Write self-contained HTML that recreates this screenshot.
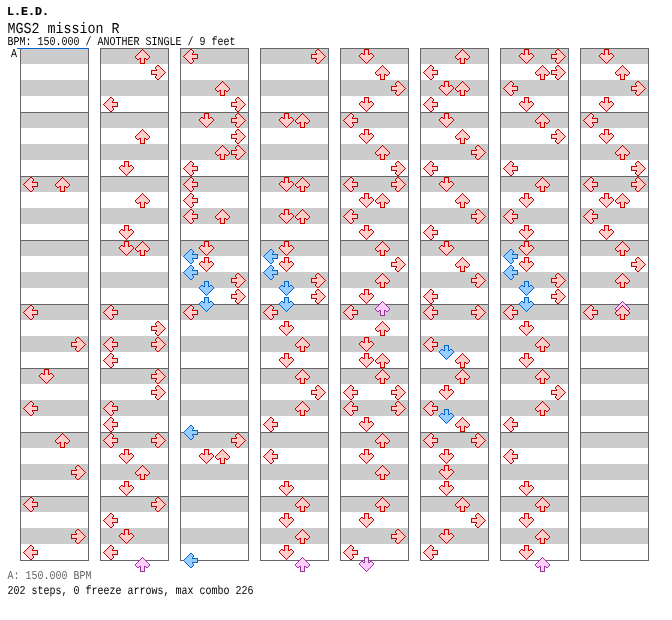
<!DOCTYPE html>
<html lang="en"><head><meta charset="utf-8"><title>MGS2 mission R</title>
<style>
html,body{margin:0;padding:0;background:#fff}
body{width:672px;height:620px;position:relative;overflow:hidden;font-family:"Liberation Mono",monospace;color:#000}
.t{text-rendering:geometricPrecision;position:absolute;white-space:pre;margin:0;line-height:1;transform-origin:0 0}
#t1{-webkit-text-stroke:0.2px;left:7px;top:7px;font-size:11.665px;font-weight:bold;transform:scaleY(1.0411)}
#t2{left:7.5px;top:23px;font-size:13.33px;transform:scaleY(1.1388)}
#t3{left:7.5px;top:38px;font-size:10px;transform:scaleY(1.2145)}
#la{left:11px;top:50px;font-size:10px;transform:scaleY(1.2145)}
#b1{left:7.5px;top:572px;font-size:10px;color:#666;transform:scaleY(1.2145)}
#b2{left:7.5px;top:587px;font-size:10px;transform:scaleY(1.2145)}
svg{position:absolute;left:0;top:0}
</style></head><body>
<svg width="672" height="620" viewBox="0 0 672 620" shape-rendering="crispEdges">
<defs>
<g id="r"><path d="M7 1h1v1h-1zM6 2h3v1h-3zM5 3h5v1h-5zM4 4h7v1h-7zM3 5h9v1h-9zM2 6h11v1h-11zM1 7h13v1h-13zM1 8h13v1h-13zM2 9h2v1h-2zM6 9h3v1h-3zM11 9h2v1h-2zM6 10h3v1h-3zM6 11h3v1h-3zM6 12h3v1h-3zM6 13h3v1h-3z" fill="#ffcccc"/><path d="M7 0h1v1h-1zM6 1h1v1h-1zM8 1h1v1h-1zM5 2h1v1h-1zM9 2h1v1h-1zM4 3h1v1h-1zM10 3h1v1h-1zM3 4h1v1h-1zM11 4h1v1h-1zM2 5h1v1h-1zM12 5h1v1h-1zM1 6h1v1h-1zM13 6h1v1h-1zM0 7h1v1h-1zM14 7h1v1h-1zM0 8h1v1h-1zM14 8h1v1h-1zM1 9h1v1h-1zM4 9h2v1h-2zM9 9h2v1h-2zM13 9h1v1h-1zM2 10h2v1h-2zM5 10h1v1h-1zM9 10h1v1h-1zM11 10h2v1h-2zM5 11h1v1h-1zM9 11h1v1h-1zM5 12h1v1h-1zM9 12h1v1h-1zM5 13h1v1h-1zM9 13h1v1h-1zM5 14h5v1h-5z" fill="#cc0000"/></g>
<g id="b"><path d="M7 1h1v1h-1zM6 2h3v1h-3zM5 3h5v1h-5zM4 4h7v1h-7zM3 5h9v1h-9zM2 6h11v1h-11zM1 7h13v1h-13zM1 8h13v1h-13zM2 9h2v1h-2zM6 9h3v1h-3zM11 9h2v1h-2zM6 10h3v1h-3zM6 11h3v1h-3zM6 12h3v1h-3zM6 13h3v1h-3z" fill="#99ccff"/><path d="M7 0h1v1h-1zM6 1h1v1h-1zM8 1h1v1h-1zM5 2h1v1h-1zM9 2h1v1h-1zM4 3h1v1h-1zM10 3h1v1h-1zM3 4h1v1h-1zM11 4h1v1h-1zM2 5h1v1h-1zM12 5h1v1h-1zM1 6h1v1h-1zM13 6h1v1h-1zM0 7h1v1h-1zM14 7h1v1h-1zM0 8h1v1h-1zM14 8h1v1h-1zM1 9h1v1h-1zM4 9h2v1h-2zM9 9h2v1h-2zM13 9h1v1h-1zM2 10h2v1h-2zM5 10h1v1h-1zM9 10h1v1h-1zM11 10h2v1h-2zM5 11h1v1h-1zM9 11h1v1h-1zM5 12h1v1h-1zM9 12h1v1h-1zM5 13h1v1h-1zM9 13h1v1h-1zM5 14h5v1h-5z" fill="#0066cc"/></g>
<g id="p"><path d="M7 1h1v1h-1zM6 2h3v1h-3zM5 3h5v1h-5zM4 4h7v1h-7zM3 5h9v1h-9zM2 6h11v1h-11zM1 7h13v1h-13zM1 8h13v1h-13zM2 9h2v1h-2zM6 9h3v1h-3zM11 9h2v1h-2zM6 10h3v1h-3zM6 11h3v1h-3zM6 12h3v1h-3zM6 13h3v1h-3z" fill="#ffccff"/><path d="M7 0h1v1h-1zM6 1h1v1h-1zM8 1h1v1h-1zM5 2h1v1h-1zM9 2h1v1h-1zM4 3h1v1h-1zM10 3h1v1h-1zM3 4h1v1h-1zM11 4h1v1h-1zM2 5h1v1h-1zM12 5h1v1h-1zM1 6h1v1h-1zM13 6h1v1h-1zM0 7h1v1h-1zM14 7h1v1h-1zM0 8h1v1h-1zM14 8h1v1h-1zM1 9h1v1h-1zM4 9h2v1h-2zM9 9h2v1h-2zM13 9h1v1h-1zM2 10h2v1h-2zM5 10h1v1h-1zM9 10h1v1h-1zM11 10h2v1h-2zM5 11h1v1h-1zM9 11h1v1h-1zM5 12h1v1h-1zM9 12h1v1h-1zM5 13h1v1h-1zM9 13h1v1h-1zM5 14h5v1h-5z" fill="#993399"/></g>
<g id="col"><rect x="0" y="0" width="69" height="513" fill="#fff"/><rect x="1" y="0" width="67" height="16" fill="#ccc"/><rect x="1" y="32" width="67" height="16" fill="#ccc"/><rect x="1" y="64" width="67" height="16" fill="#ccc"/><rect x="1" y="96" width="67" height="16" fill="#ccc"/><rect x="1" y="128" width="67" height="16" fill="#ccc"/><rect x="1" y="160" width="67" height="16" fill="#ccc"/><rect x="1" y="192" width="67" height="16" fill="#ccc"/><rect x="1" y="224" width="67" height="16" fill="#ccc"/><rect x="1" y="256" width="67" height="16" fill="#ccc"/><rect x="1" y="288" width="67" height="16" fill="#ccc"/><rect x="1" y="320" width="67" height="16" fill="#ccc"/><rect x="1" y="352" width="67" height="16" fill="#ccc"/><rect x="1" y="384" width="67" height="16" fill="#ccc"/><rect x="1" y="416" width="67" height="16" fill="#ccc"/><rect x="1" y="448" width="67" height="16" fill="#ccc"/><rect x="1" y="480" width="67" height="16" fill="#ccc"/><rect x="0" y="0" width="69" height="1" fill="#666"/><rect x="0" y="64" width="69" height="1" fill="#666"/><rect x="0" y="128" width="69" height="1" fill="#666"/><rect x="0" y="192" width="69" height="1" fill="#666"/><rect x="0" y="256" width="69" height="1" fill="#666"/><rect x="0" y="320" width="69" height="1" fill="#666"/><rect x="0" y="384" width="69" height="1" fill="#666"/><rect x="0" y="448" width="69" height="1" fill="#666"/><rect x="0" y="512" width="69" height="1" fill="#666"/><rect x="0" y="0" width="1" height="513" fill="#666"/><rect x="68" y="0" width="1" height="513" fill="#666"/></g>
</defs>
<use href="#col" x="20" y="48"/>
<use href="#col" x="100" y="48"/>
<use href="#col" x="180" y="48"/>
<use href="#col" x="260" y="48"/>
<use href="#col" x="340" y="48"/>
<use href="#col" x="420" y="48"/>
<use href="#col" x="500" y="48"/>
<use href="#col" x="580" y="48"/>
<rect x="17" y="48" width="72" height="1" fill="#0066cc"/>
<use href="#r" transform="translate(23 177) rotate(270 7.5 7.5)"/>
<use href="#r" transform="translate(55 177)"/>
<use href="#r" transform="translate(23 305) rotate(270 7.5 7.5)"/>
<use href="#r" transform="translate(71 337) rotate(90 7.5 7.5)"/>
<use href="#r" transform="translate(39 369) rotate(180 7.5 7.5)"/>
<use href="#r" transform="translate(23 401) rotate(270 7.5 7.5)"/>
<use href="#r" transform="translate(55 433)"/>
<use href="#r" transform="translate(71 465) rotate(90 7.5 7.5)"/>
<use href="#r" transform="translate(23 497) rotate(270 7.5 7.5)"/>
<use href="#r" transform="translate(71 529) rotate(90 7.5 7.5)"/>
<use href="#r" transform="translate(23 545) rotate(270 7.5 7.5)"/>
<use href="#r" transform="translate(135 49)"/>
<use href="#r" transform="translate(151 65) rotate(90 7.5 7.5)"/>
<use href="#r" transform="translate(103 97) rotate(270 7.5 7.5)"/>
<use href="#r" transform="translate(135 129)"/>
<use href="#r" transform="translate(119 161) rotate(180 7.5 7.5)"/>
<use href="#r" transform="translate(135 193)"/>
<use href="#r" transform="translate(119 225) rotate(180 7.5 7.5)"/>
<use href="#r" transform="translate(119 241) rotate(180 7.5 7.5)"/>
<use href="#r" transform="translate(135 241)"/>
<use href="#r" transform="translate(103 305) rotate(270 7.5 7.5)"/>
<use href="#r" transform="translate(151 321) rotate(90 7.5 7.5)"/>
<use href="#r" transform="translate(103 337) rotate(270 7.5 7.5)"/>
<use href="#r" transform="translate(151 337) rotate(90 7.5 7.5)"/>
<use href="#r" transform="translate(103 353) rotate(270 7.5 7.5)"/>
<use href="#r" transform="translate(151 369) rotate(90 7.5 7.5)"/>
<use href="#r" transform="translate(151 385) rotate(90 7.5 7.5)"/>
<use href="#r" transform="translate(103 401) rotate(270 7.5 7.5)"/>
<use href="#r" transform="translate(103 417) rotate(270 7.5 7.5)"/>
<use href="#r" transform="translate(103 433) rotate(270 7.5 7.5)"/>
<use href="#r" transform="translate(151 433) rotate(90 7.5 7.5)"/>
<use href="#r" transform="translate(119 449) rotate(180 7.5 7.5)"/>
<use href="#r" transform="translate(135 465)"/>
<use href="#r" transform="translate(119 481) rotate(180 7.5 7.5)"/>
<use href="#r" transform="translate(151 497) rotate(90 7.5 7.5)"/>
<use href="#r" transform="translate(103 513) rotate(270 7.5 7.5)"/>
<use href="#r" transform="translate(119 529) rotate(180 7.5 7.5)"/>
<use href="#r" transform="translate(103 545) rotate(270 7.5 7.5)"/>
<use href="#p" transform="translate(135 557)"/>
<use href="#r" transform="translate(183 49) rotate(270 7.5 7.5)"/>
<use href="#r" transform="translate(215 81)"/>
<use href="#r" transform="translate(231 97) rotate(90 7.5 7.5)"/>
<use href="#r" transform="translate(199 113) rotate(180 7.5 7.5)"/>
<use href="#r" transform="translate(231 113) rotate(90 7.5 7.5)"/>
<use href="#r" transform="translate(231 129) rotate(90 7.5 7.5)"/>
<use href="#r" transform="translate(215 145)"/>
<use href="#r" transform="translate(231 145) rotate(90 7.5 7.5)"/>
<use href="#r" transform="translate(183 161) rotate(270 7.5 7.5)"/>
<use href="#r" transform="translate(183 177) rotate(270 7.5 7.5)"/>
<use href="#r" transform="translate(183 193) rotate(270 7.5 7.5)"/>
<use href="#r" transform="translate(183 209) rotate(270 7.5 7.5)"/>
<use href="#r" transform="translate(215 209)"/>
<use href="#r" transform="translate(199 241) rotate(180 7.5 7.5)"/>
<use href="#b" transform="translate(183 249) rotate(270 7.5 7.5)"/>
<use href="#r" transform="translate(199 257) rotate(180 7.5 7.5)"/>
<use href="#b" transform="translate(183 265) rotate(270 7.5 7.5)"/>
<use href="#r" transform="translate(231 273) rotate(90 7.5 7.5)"/>
<use href="#b" transform="translate(199 281) rotate(180 7.5 7.5)"/>
<use href="#r" transform="translate(231 289) rotate(90 7.5 7.5)"/>
<use href="#b" transform="translate(199 297) rotate(180 7.5 7.5)"/>
<use href="#r" transform="translate(183 305) rotate(270 7.5 7.5)"/>
<use href="#b" transform="translate(183 425) rotate(270 7.5 7.5)"/>
<use href="#r" transform="translate(231 433) rotate(90 7.5 7.5)"/>
<use href="#r" transform="translate(199 449) rotate(180 7.5 7.5)"/>
<use href="#r" transform="translate(215 449)"/>
<use href="#b" transform="translate(183 553) rotate(270 7.5 7.5)"/>
<use href="#r" transform="translate(311 49) rotate(90 7.5 7.5)"/>
<use href="#r" transform="translate(279 113) rotate(180 7.5 7.5)"/>
<use href="#r" transform="translate(295 113)"/>
<use href="#r" transform="translate(279 177) rotate(180 7.5 7.5)"/>
<use href="#r" transform="translate(295 177)"/>
<use href="#r" transform="translate(279 209) rotate(180 7.5 7.5)"/>
<use href="#r" transform="translate(295 209)"/>
<use href="#r" transform="translate(279 241) rotate(180 7.5 7.5)"/>
<use href="#b" transform="translate(263 249) rotate(270 7.5 7.5)"/>
<use href="#r" transform="translate(279 257) rotate(180 7.5 7.5)"/>
<use href="#b" transform="translate(263 265) rotate(270 7.5 7.5)"/>
<use href="#r" transform="translate(311 273) rotate(90 7.5 7.5)"/>
<use href="#b" transform="translate(279 281) rotate(180 7.5 7.5)"/>
<use href="#r" transform="translate(311 289) rotate(90 7.5 7.5)"/>
<use href="#b" transform="translate(279 297) rotate(180 7.5 7.5)"/>
<use href="#r" transform="translate(263 305) rotate(270 7.5 7.5)"/>
<use href="#r" transform="translate(279 321) rotate(180 7.5 7.5)"/>
<use href="#r" transform="translate(295 337)"/>
<use href="#r" transform="translate(279 353) rotate(180 7.5 7.5)"/>
<use href="#r" transform="translate(295 369)"/>
<use href="#r" transform="translate(311 385) rotate(90 7.5 7.5)"/>
<use href="#r" transform="translate(295 401)"/>
<use href="#r" transform="translate(263 417) rotate(270 7.5 7.5)"/>
<use href="#r" transform="translate(263 449) rotate(270 7.5 7.5)"/>
<use href="#r" transform="translate(279 481) rotate(180 7.5 7.5)"/>
<use href="#r" transform="translate(295 497)"/>
<use href="#r" transform="translate(279 513) rotate(180 7.5 7.5)"/>
<use href="#r" transform="translate(295 529)"/>
<use href="#r" transform="translate(279 545) rotate(180 7.5 7.5)"/>
<use href="#p" transform="translate(295 557)"/>
<use href="#r" transform="translate(359 49) rotate(180 7.5 7.5)"/>
<use href="#r" transform="translate(375 65)"/>
<use href="#r" transform="translate(391 81) rotate(90 7.5 7.5)"/>
<use href="#r" transform="translate(359 97) rotate(180 7.5 7.5)"/>
<use href="#r" transform="translate(343 113) rotate(270 7.5 7.5)"/>
<use href="#r" transform="translate(359 129) rotate(180 7.5 7.5)"/>
<use href="#r" transform="translate(375 145)"/>
<use href="#r" transform="translate(391 161) rotate(90 7.5 7.5)"/>
<use href="#r" transform="translate(343 177) rotate(270 7.5 7.5)"/>
<use href="#r" transform="translate(391 177) rotate(90 7.5 7.5)"/>
<use href="#r" transform="translate(359 193) rotate(180 7.5 7.5)"/>
<use href="#r" transform="translate(375 193)"/>
<use href="#r" transform="translate(343 209) rotate(270 7.5 7.5)"/>
<use href="#r" transform="translate(359 225) rotate(180 7.5 7.5)"/>
<use href="#r" transform="translate(375 241)"/>
<use href="#r" transform="translate(391 257) rotate(90 7.5 7.5)"/>
<use href="#r" transform="translate(375 273)"/>
<use href="#r" transform="translate(359 289) rotate(180 7.5 7.5)"/>
<use href="#p" transform="translate(375 301)"/>
<use href="#r" transform="translate(343 305) rotate(270 7.5 7.5)"/>
<use href="#r" transform="translate(375 321)"/>
<use href="#r" transform="translate(359 337) rotate(180 7.5 7.5)"/>
<use href="#r" transform="translate(359 353) rotate(180 7.5 7.5)"/>
<use href="#r" transform="translate(375 353)"/>
<use href="#r" transform="translate(375 369)"/>
<use href="#r" transform="translate(343 385) rotate(270 7.5 7.5)"/>
<use href="#r" transform="translate(391 385) rotate(90 7.5 7.5)"/>
<use href="#r" transform="translate(343 401) rotate(270 7.5 7.5)"/>
<use href="#r" transform="translate(391 401) rotate(90 7.5 7.5)"/>
<use href="#r" transform="translate(359 417) rotate(180 7.5 7.5)"/>
<use href="#r" transform="translate(375 433)"/>
<use href="#r" transform="translate(359 449) rotate(180 7.5 7.5)"/>
<use href="#r" transform="translate(375 465)"/>
<use href="#r" transform="translate(375 497)"/>
<use href="#r" transform="translate(359 513) rotate(180 7.5 7.5)"/>
<use href="#r" transform="translate(391 529) rotate(90 7.5 7.5)"/>
<use href="#r" transform="translate(343 545) rotate(270 7.5 7.5)"/>
<use href="#p" transform="translate(359 557) rotate(180 7.5 7.5)"/>
<use href="#r" transform="translate(455 49)"/>
<use href="#r" transform="translate(423 65) rotate(270 7.5 7.5)"/>
<use href="#r" transform="translate(439 81) rotate(180 7.5 7.5)"/>
<use href="#r" transform="translate(455 81)"/>
<use href="#r" transform="translate(423 97) rotate(270 7.5 7.5)"/>
<use href="#r" transform="translate(439 113) rotate(180 7.5 7.5)"/>
<use href="#r" transform="translate(455 129)"/>
<use href="#r" transform="translate(471 145) rotate(90 7.5 7.5)"/>
<use href="#r" transform="translate(423 161) rotate(270 7.5 7.5)"/>
<use href="#r" transform="translate(439 177) rotate(180 7.5 7.5)"/>
<use href="#r" transform="translate(455 193)"/>
<use href="#r" transform="translate(471 209) rotate(90 7.5 7.5)"/>
<use href="#r" transform="translate(423 225) rotate(270 7.5 7.5)"/>
<use href="#r" transform="translate(439 241) rotate(180 7.5 7.5)"/>
<use href="#r" transform="translate(455 257)"/>
<use href="#r" transform="translate(471 273) rotate(90 7.5 7.5)"/>
<use href="#r" transform="translate(423 289) rotate(270 7.5 7.5)"/>
<use href="#r" transform="translate(423 305) rotate(270 7.5 7.5)"/>
<use href="#r" transform="translate(471 305) rotate(90 7.5 7.5)"/>
<use href="#r" transform="translate(423 337) rotate(270 7.5 7.5)"/>
<use href="#b" transform="translate(439 345) rotate(180 7.5 7.5)"/>
<use href="#r" transform="translate(455 353)"/>
<use href="#r" transform="translate(455 369)"/>
<use href="#r" transform="translate(439 385) rotate(180 7.5 7.5)"/>
<use href="#r" transform="translate(423 401) rotate(270 7.5 7.5)"/>
<use href="#b" transform="translate(439 409) rotate(180 7.5 7.5)"/>
<use href="#r" transform="translate(455 417)"/>
<use href="#r" transform="translate(423 433) rotate(270 7.5 7.5)"/>
<use href="#r" transform="translate(471 433) rotate(90 7.5 7.5)"/>
<use href="#r" transform="translate(439 449) rotate(180 7.5 7.5)"/>
<use href="#r" transform="translate(439 465) rotate(180 7.5 7.5)"/>
<use href="#r" transform="translate(439 481) rotate(180 7.5 7.5)"/>
<use href="#r" transform="translate(455 497)"/>
<use href="#r" transform="translate(471 513) rotate(90 7.5 7.5)"/>
<use href="#r" transform="translate(439 529) rotate(180 7.5 7.5)"/>
<use href="#r" transform="translate(423 545) rotate(270 7.5 7.5)"/>
<use href="#r" transform="translate(519 49) rotate(180 7.5 7.5)"/>
<use href="#r" transform="translate(551 49) rotate(90 7.5 7.5)"/>
<use href="#r" transform="translate(535 65)"/>
<use href="#r" transform="translate(551 65) rotate(90 7.5 7.5)"/>
<use href="#r" transform="translate(503 81) rotate(270 7.5 7.5)"/>
<use href="#r" transform="translate(519 97) rotate(180 7.5 7.5)"/>
<use href="#r" transform="translate(535 113)"/>
<use href="#r" transform="translate(551 129) rotate(90 7.5 7.5)"/>
<use href="#r" transform="translate(503 161) rotate(270 7.5 7.5)"/>
<use href="#r" transform="translate(535 177)"/>
<use href="#r" transform="translate(519 193) rotate(180 7.5 7.5)"/>
<use href="#r" transform="translate(503 209) rotate(270 7.5 7.5)"/>
<use href="#r" transform="translate(519 225) rotate(180 7.5 7.5)"/>
<use href="#r" transform="translate(519 241) rotate(180 7.5 7.5)"/>
<use href="#b" transform="translate(503 249) rotate(270 7.5 7.5)"/>
<use href="#r" transform="translate(519 257) rotate(180 7.5 7.5)"/>
<use href="#b" transform="translate(503 265) rotate(270 7.5 7.5)"/>
<use href="#r" transform="translate(551 273) rotate(90 7.5 7.5)"/>
<use href="#b" transform="translate(519 281) rotate(180 7.5 7.5)"/>
<use href="#r" transform="translate(551 289) rotate(90 7.5 7.5)"/>
<use href="#b" transform="translate(519 297) rotate(180 7.5 7.5)"/>
<use href="#r" transform="translate(503 305) rotate(270 7.5 7.5)"/>
<use href="#r" transform="translate(519 321) rotate(180 7.5 7.5)"/>
<use href="#r" transform="translate(535 337)"/>
<use href="#r" transform="translate(519 353) rotate(180 7.5 7.5)"/>
<use href="#r" transform="translate(535 369)"/>
<use href="#r" transform="translate(551 385) rotate(90 7.5 7.5)"/>
<use href="#r" transform="translate(535 401)"/>
<use href="#r" transform="translate(503 417) rotate(270 7.5 7.5)"/>
<use href="#r" transform="translate(503 449) rotate(270 7.5 7.5)"/>
<use href="#r" transform="translate(519 481) rotate(180 7.5 7.5)"/>
<use href="#r" transform="translate(535 497)"/>
<use href="#r" transform="translate(519 513) rotate(180 7.5 7.5)"/>
<use href="#r" transform="translate(535 529)"/>
<use href="#r" transform="translate(519 545) rotate(180 7.5 7.5)"/>
<use href="#p" transform="translate(535 557)"/>
<use href="#r" transform="translate(599 49) rotate(180 7.5 7.5)"/>
<use href="#r" transform="translate(615 65)"/>
<use href="#r" transform="translate(631 81) rotate(90 7.5 7.5)"/>
<use href="#r" transform="translate(599 97) rotate(180 7.5 7.5)"/>
<use href="#r" transform="translate(583 113) rotate(270 7.5 7.5)"/>
<use href="#r" transform="translate(599 129) rotate(180 7.5 7.5)"/>
<use href="#r" transform="translate(615 145)"/>
<use href="#r" transform="translate(631 161) rotate(90 7.5 7.5)"/>
<use href="#r" transform="translate(583 177) rotate(270 7.5 7.5)"/>
<use href="#r" transform="translate(631 177) rotate(90 7.5 7.5)"/>
<use href="#r" transform="translate(599 193) rotate(180 7.5 7.5)"/>
<use href="#r" transform="translate(615 193)"/>
<use href="#r" transform="translate(583 209) rotate(270 7.5 7.5)"/>
<use href="#r" transform="translate(599 225) rotate(180 7.5 7.5)"/>
<use href="#r" transform="translate(615 241)"/>
<use href="#r" transform="translate(631 257) rotate(90 7.5 7.5)"/>
<use href="#r" transform="translate(615 273)"/>
<use href="#p" transform="translate(615 301)"/>
<use href="#r" transform="translate(583 305) rotate(270 7.5 7.5)"/>
<use href="#r" transform="translate(615 305)"/>
</svg>
<div class="t" id="t1">L.E.D.</div>
<div class="t" id="t2">MGS2 mission R</div>
<div class="t" id="t3">BPM: 150.000 / ANOTHER SINGLE / 9 feet</div>
<div class="t" id="la">A</div>
<div class="t" id="b1">A: 150.000 BPM</div>
<div class="t" id="b2">202 steps, 0 freeze arrows, max combo 226</div>
</body></html>
